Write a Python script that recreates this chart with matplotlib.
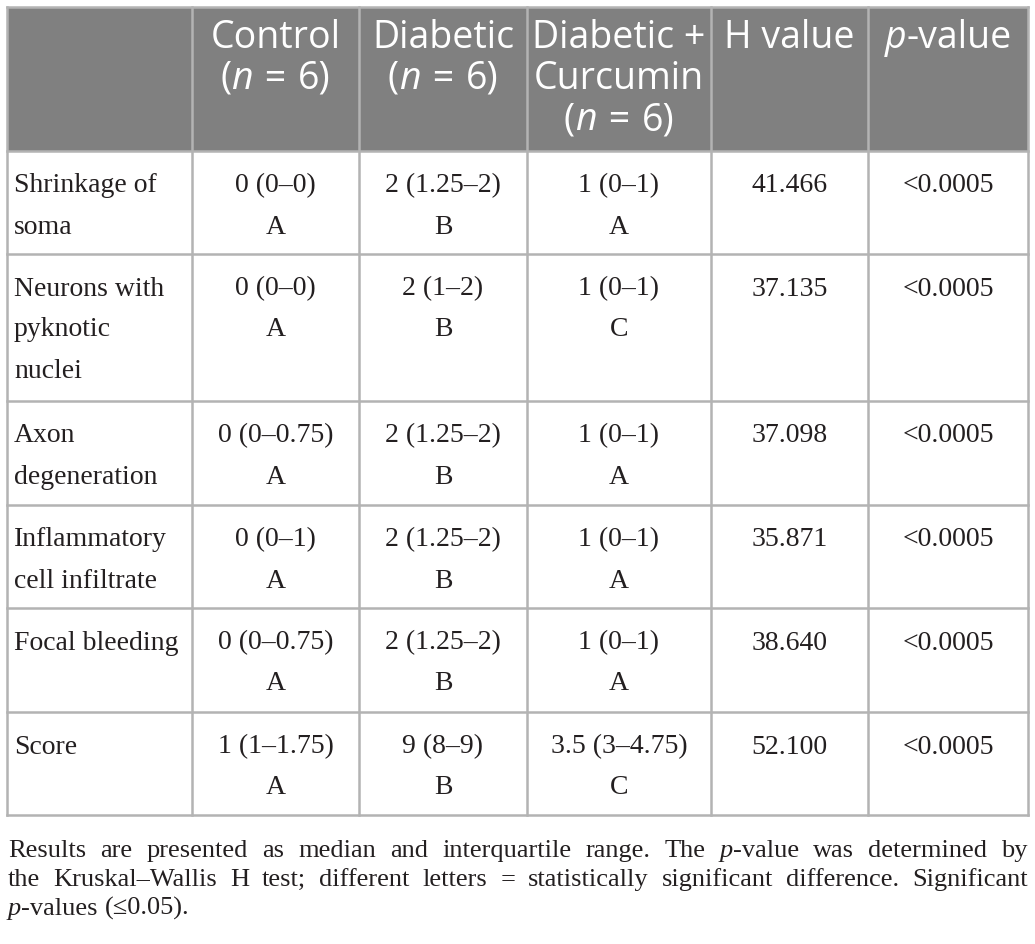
import matplotlib
matplotlib.use('Agg')
import matplotlib.pyplot as plt
from matplotlib.patches import Rectangle

# ---- table content ----
groups = [['Control'], ['Diabetic'], ['Diabetic +', 'Curcumin']]
group_n = [6, 6, 6]
features = [['Shrinkage of', 'soma'],
            ['Neurons with', 'pyknotic', 'nuclei'],
            ['Axon', 'degeneration'],
            ['Inflammatory', 'cell infiltrate'],
            ['Focal bleeding'],
            ['Score']]
control = ['0 (0\u20130)', '0 (0\u20130)', '0 (0\u20130.75)', '0 (0\u20131)', '0 (0\u20130.75)', '1 (1\u20131.75)']
control_grp = ['A', 'A', 'A', 'A', 'A', 'A']
diabetic = ['2 (1.25\u20132)', '2 (1\u20132)', '2 (1.25\u20132)', '2 (1.25\u20132)', '2 (1.25\u20132)', '9 (8\u20139)']
diabetic_grp = ['B', 'B', 'B', 'B', 'B', 'B']
curcumin = ['1 (0\u20131)', '1 (0\u20131)', '1 (0\u20131)', '1 (0\u20131)', '1 (0\u20131)', '3.5 (3\u20134.75)']
curcumin_grp = ['A', 'C', 'A', 'A', 'A', 'C']
h_values = [41.466, 37.135, 37.098, 35.871, 38.640, 52.100]
p_values = ['<0.0005'] * 6

footnote = [
    [('Results are presented as median and interquartile range. The ', ''), ('p', 'i'), ('-value was determined by', '')],
    [('the Kruskal\u2013Wallis H test; different letters = statistically significant difference. Significant', '')],
    [('p', 'i'), ('-values (\u22640.05).', '')],
]

# ---- layout (pixels) ----
W, H = 1035, 944
col_x = [7, 192, 359, 527, 711, 868, 1028]
head_top, head_bot = 7, 151
row_heights = [103, 147, 104, 103, 104, 103]
line_gap = 41
header_bg = '#808080'
grid_col = '#b3b3b3'
txt_col = '#231f20'
HEAD_FONT = 'Open Sans'
BODY_FONT = 'Liberation Serif'

fig = plt.figure(figsize=(W / 100, H / 100), dpi=100)
ax = fig.add_axes([0, 0, 1, 1])
ax.set_xlim(0, W)
ax.set_ylim(H, 0)
ax.axis('off')
renderer = fig.canvas.get_renderer()


def text_w(s, **kw):
    t = ax.text(0, 0, '|' + s + '|', **kw)
    w = t.get_window_extent(renderer).width
    t.remove()
    t = ax.text(0, 0, '||', **kw)
    w -= t.get_window_extent(renderer).width
    t.remove()
    return w


def rich(x, y, segs, ha='center', va='center', **kw):
    """segs: (text, style) pairs, style 'i' = italic; a bare number adds a gap in px"""
    widths = []
    for sg in segs:
        if isinstance(sg, (int, float)):
            widths.append(sg)
        else:
            widths.append(text_w(sg[0], style='italic' if sg[1] == 'i' else 'normal', **kw))
    total = sum(widths)
    x0 = x - total / 2 if ha == 'center' else x
    for sg, w in zip(segs, widths):
        if not isinstance(sg, (int, float)):
            ax.text(x0, y, sg[0], ha='left', va=va,
                    style='italic' if sg[1] == 'i' else 'normal', **kw)
        x0 += w
    return total


# row boundaries
bounds = [head_bot]
for h in row_heights:
    bounds.append(bounds[-1] + h)
tab_bot = bounds[-1]

# header background
ax.add_patch(Rectangle((col_x[0], head_top), col_x[-1] - col_x[0], head_bot - head_top,
                       facecolor=header_bg, edgecolor='none', zorder=0))

# grid
for x in col_x:
    ax.plot([x, x], [head_top, tab_bot], color=grid_col, lw=1.8, zorder=1, solid_capstyle='projecting')
for y in [head_top] + bounds:
    ax.plot([col_x[0], col_x[-1]], [y, y], color=grid_col, lw=1.8, zorder=1, solid_capstyle='projecting')

# header text
hk = dict(fontsize=27, family=HEAD_FONT, color='white')
cx = [(col_x[i] + col_x[i + 1]) / 2 for i in range(len(col_x) - 1)]
for j, (g, n) in enumerate(zip(groups, group_n)):
    y = 38
    for line in g:
        rich(cx[j + 1], y, [(line, '')], **hk)
        y += line_gap
    rich(cx[j + 1], y, [('(', ''), ('n', 'i'), 2, (' = ', ''), 2, ('%d)' % n, '')], **hk)
rich(cx[4], 38, [('H value', '')], **hk)
rich(cx[5], 38, [('p', 'i'), ('-value', '')], **hk)

# body
bk = dict(fontsize=20, family=BODY_FONT, color=txt_col)
for i, feat in enumerate(features):
    top = bounds[i] + 35
    for k, line in enumerate(feat):
        ax.text(14, top + k * line_gap, line, ha='left', va='center', **bk)
    for j, (vals, grp) in enumerate([(control, control_grp), (diabetic, diabetic_grp), (curcumin, curcumin_grp)]):
        ax.text(cx[j + 1], top, vals[i], ha='center', va='center', **bk)
        ax.text(cx[j + 1], top + line_gap, grp[i], ha='center', va='center', **bk)
    ax.text(cx[4], top, '%.3f' % h_values[i], ha='center', va='center', **bk)
    ax.text(cx[5], top, p_values[i], ha='center', va='center', **bk)

# footnote, justified
fk = dict(fontsize=19, family=BODY_FONT, color=txt_col)
fx0, fx1 = 8, 1028
fy = [857, 886, 915]
for li, segs in enumerate(footnote):
    # split into words, keeping style pieces glued
    words = [[]]
    for s, st in segs:
        parts = s.split(' ')
        for pi, p in enumerate(parts):
            if pi > 0:
                words.append([])
            if p:
                words[-1].append((p, st))
    words = [w for w in words if w]
    ww = [sum(text_w(s, style='italic' if st == 'i' else 'normal', **fk) for s, st in w) for w in words]
    if li < len(footnote) - 1:
        gap = (fx1 - fx0 - sum(ww)) / (len(words) - 1)
    else:
        gap = text_w(' ', **fk)
    x = fx0
    for w, wd in zip(words, ww):
        rich(x, fy[li], w, ha='left', va='baseline', **fk)
        x += wd + gap

fig.savefig('out.png', dpi=100, facecolor='white')
